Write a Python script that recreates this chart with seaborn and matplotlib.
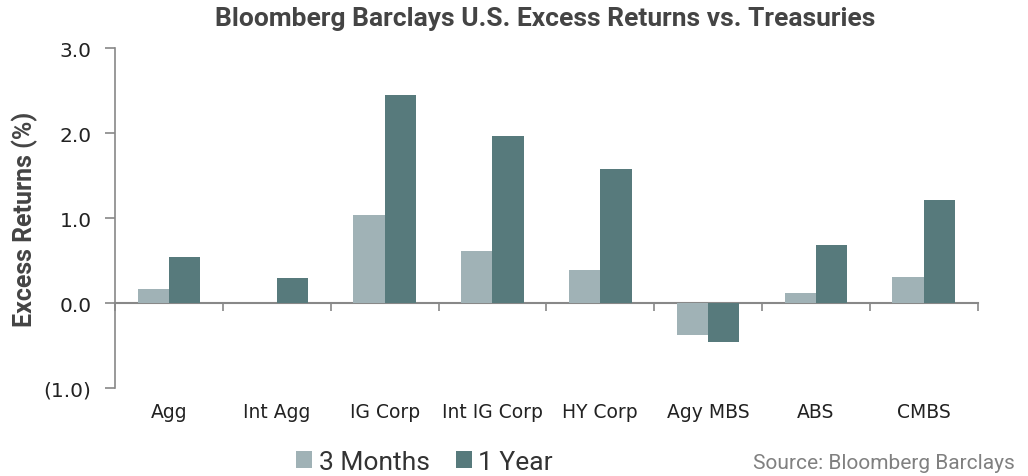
import matplotlib
matplotlib.use("Agg")
import matplotlib.pyplot as plt
import seaborn as sns
import pandas as pd
from matplotlib.ticker import FuncFormatter
from matplotlib.patches import Patch

categories = ["Agg", "Int Agg", "IG Corp", "Int IG Corp", "HY Corp", "Agy MBS", "ABS", "CMBS"]
three_months = [0.17, 0.0, 1.04, 0.61, 0.39, -0.38, 0.12, 0.31]
one_year = [0.54, 0.29, 2.45, 1.96, 1.58, -0.46, 0.68, 1.21]
series_names = ["3 Months", "1 Year"]
colors = ["#A0B2B6", "#577A7C"]
y_ticks = [-1.0, 0.0, 1.0, 2.0, 3.0]

df = pd.DataFrame({
    "category": categories * 2,
    "series": [series_names[0]] * len(categories) + [series_names[1]] * len(categories),
    "value": three_months + one_year,
})

sns.set_style("white")
cond = ["Roboto", "DejaVu Sans"]
plt.rcParams["font.family"] = ["DejaVu Sans"]

fig = plt.figure(figsize=(10.28, 4.77), dpi=100)
ax = fig.add_axes([0.112, 0.1845, 0.839, 0.7125])

sns.barplot(data=df, x="category", y="value", hue="series", palette=colors,
            width=0.58, ax=ax, saturation=1, legend=False, edgecolor="none")

ax.set_ylim(-1.0, 3.0)
ax.set_xlim(-0.5, len(categories) - 0.5)
ax.set_yticks(y_ticks)
ax.yaxis.set_major_formatter(FuncFormatter(lambda v, p: f"({abs(v):.1f})" if v < 0 else f"{v:.1f}"))
ax.tick_params(axis="y", direction="out", length=7, width=1.2, color="#888888",
               labelsize=14.5, labelcolor="#222222", pad=10, left=True)
ax.tick_params(axis="x", length=0, labelsize=13.5, labelcolor="#222222", pad=10)

for s in ["top", "right", "bottom"]:
    ax.spines[s].set_visible(False)
ax.spines["left"].set_color("#888888")
ax.spines["left"].set_linewidth(1.2)

sec = ax.secondary_xaxis(0.25)
sec.set_xticks([i - 0.5 for i in range(len(categories) + 1)])
sec.set_xticklabels([])
sec.tick_params(direction="out", length=6, width=1.2, color="#888888")
sec.spines["bottom"].set_color("#888888")
sec.spines["bottom"].set_linewidth(1.5)

ax.set_xlabel("")
ax.set_ylabel("Excess Returns (%)", fontsize=18, fontweight="bold", family=cond,
              color="#444444", labelpad=4)

fig.suptitle("Bloomberg Barclays U.S. Excess Returns vs. Treasuries", x=0.53, y=0.985,
             fontsize=19, fontweight="bold", family=cond, color="#444444")

handles = [Patch(facecolor=c, edgecolor="none") for c in colors]
fig.legend(handles, series_names, loc="center", bbox_to_anchor=(0.413, 0.03), ncol=2,
           frameon=False, prop={"family": cond, "size": 19}, handlelength=0.6,
           handleheight=0.6, handletextpad=0.25, columnspacing=1.0, labelcolor="#333333")

fig.text(0.987, 0.028, "Source: Bloomberg Barclays", ha="right", va="center",
         fontsize=15, family=cond, color="#808080")

fig.savefig("out.png", dpi=100)
